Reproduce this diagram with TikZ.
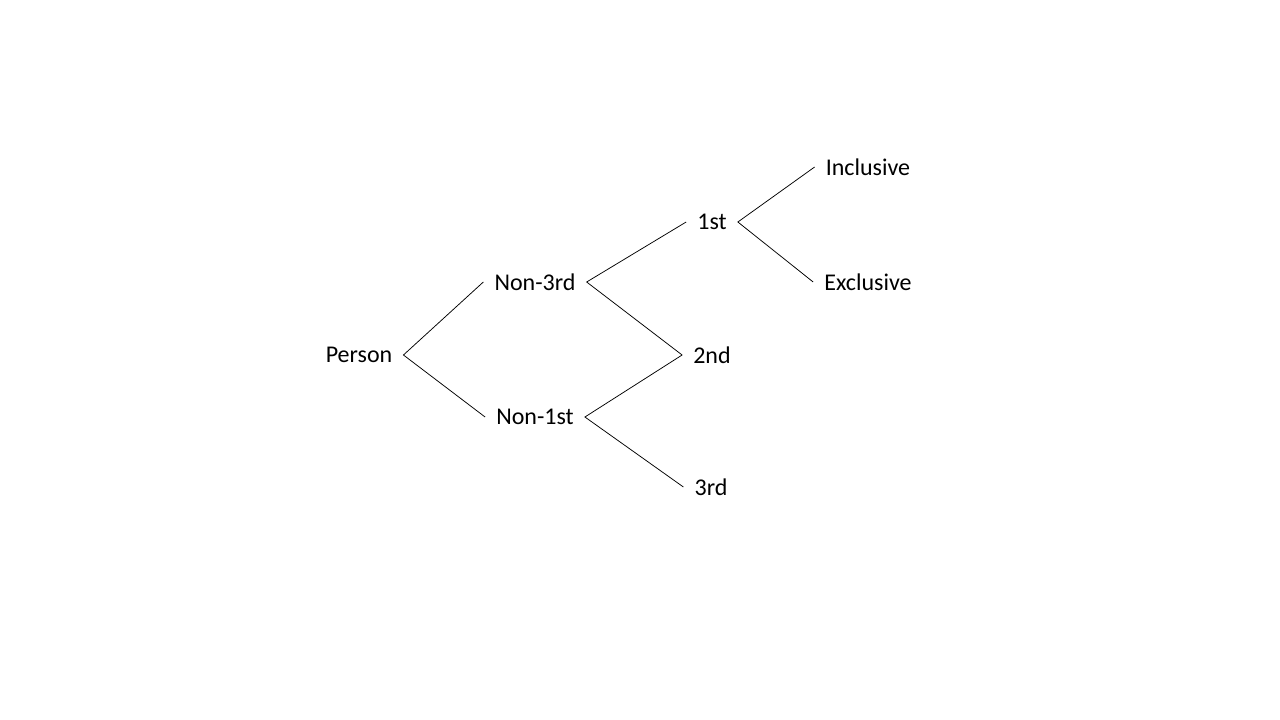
\documentclass[tikz,border=0pt]{standalone}
\usepackage{fontspec}
\setmainfont{Carlito}
\begin{document}
\begin{tikzpicture}[x=1pt,y=-1pt]

    \tikzset{
      label/.style={
        inner xsep=11pt,
        inner ysep=2pt,
        font=\fontsize{24}{28}\selectfont,
      },
      branch/.style={
        color={black},
        line width=0.75pt,
      },
    }
    \useasboundingbox (0,0) rectangle (1280,720);
	\node[label] (person) at (359,355) {Person};
	\node[label] (nonthird) at (535,282) {Non-3rd};
	\node[label] (nonfirst) at (535,417) {Non-1st};
	\node[label] (first) at (712,222) {1st};
	\node[label] (second) at (712,355) {2nd};
	\node[label] (third) at (711,487) {3rd};
	\node[label] (incl) at (868,167) {Inclusive};
	\node[label] (excl) at (868,282) {Exclusive};
	\draw[branch] (nonthird.west)--(person.east)--(nonfirst.west);
	\draw[branch] (first.west)--(nonthird.east)--(second.west);
	\draw[branch] (second.west)--(nonfirst.east)--(third.west);
	\draw[branch] (incl.west)--(first.east)--(excl.west);

\end{tikzpicture}
\end{document}
